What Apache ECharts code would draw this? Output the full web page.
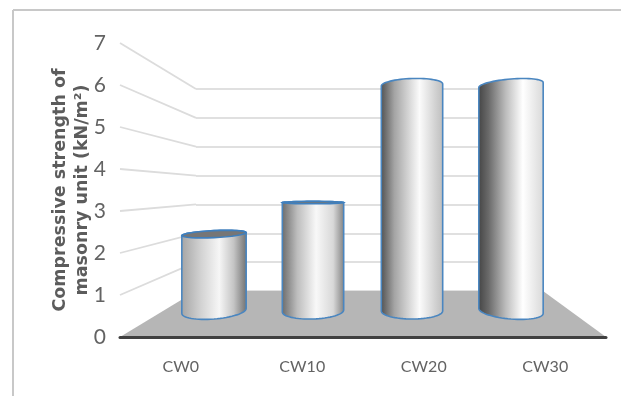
<!DOCTYPE html>
<html>
<head>
<meta charset="utf-8">
<style>html,body{margin:0;padding:0;background:#fff}#chart{width:621px;height:396px}</style>
<script src="https://cdn.jsdelivr.net/npm/echarts@6/dist/echarts.min.js"></script>
</head>
<body>
<div id="chart"></div>
<script>
// Compressive strength of masonry units, drawn as a 3-D style cylinder chart.
const categories = ['CW0', 'CW10', 'CW20', 'CW30'];
const strengthValues = [2.45, 3.2, 6, 6];
const yTicks = [0, 1, 2, 3, 4, 5, 6, 7];

// Planes of the fake perspective box, in page pixels.
const frontPlane = { left: 120, width: 486, top: 43, bottom: 59 };
const backPlane = { left: 196, width: 347, top: 89, bottom: 105 };
const barPlane = { left: 164.5, width: 396, top: 43, bottom: 59 };
const baseLift = 26;     // bar bases stand this far behind the front edge
const eyeLevel = 190;    // top faces are visible only below this height

// Per-cylinder look: half width ratio, ellipse shape and metal shading.
const barLooks = [
  { rx: 0.325, topRy: 3.5, topTilt: -1.5, baseRy: 8, baseTilt: -2.5,
    stops: [[0, '#a4a4a4'], [0.3, '#d2d2d2'], [0.58, '#f6f6f6'], [0.8, '#c4c4c4'], [1, '#6f6f6f']] },
  { rx: 0.31, topRy: 1.2, topTilt: 0, baseRy: 8, baseTilt: -1,
    stops: [[0, '#6a6a6a'], [0.25, '#bdbdbd'], [0.55, '#f8f8f8'], [0.82, '#d8d8d8'], [1, '#808080']] },
  { rx: 0.31, topRy: 6.5, topTilt: -1, baseRy: 8, baseTilt: 0,
    stops: [[0, '#4f4f4f'], [0.22, '#a4a4a4'], [0.62, '#fbfbfb'], [0.88, '#d0d0d0'], [1, '#bdbdbd']] },
  { rx: 0.325, topRy: 6, topTilt: -2.5, baseRy: 8, baseTilt: 2.5,
    stops: [[0, '#444444'], [0.16, '#6a6a6a'], [0.42, '#bcbcbc'], [0.68, '#ffffff'], [1, '#d8d8d8']] }
];

const chart = echarts.init(document.getElementById('chart'));

function arc(cx, cy, rx, ry, tilt, from, to) {
  const pts = [];
  for (let k = 0; k <= 32; k++) {
    const t = from + (to - from) * k / 32;
    pts.push([cx + rx * Math.cos(t), cy + ry * Math.sin(t) + tilt * Math.cos(t)]);
  }
  return pts;
}

function renderCylinder(params, api) {
  const i = api.value(0);
  const look = barLooks[i];
  const top = api.coord([i, api.value(1)]);
  const zero = api.coord([i, 0]);
  const rx = api.size([1, 0])[0] * look.rx;
  const baseY = zero[1] - baseLift;
  const cx = top[0];
  const upper = arc(cx, top[1], rx, look.topRy, look.topTilt, Math.PI, 2 * Math.PI);
  const lower = arc(cx, baseY, rx, look.baseRy, look.baseTilt, 0, Math.PI);
  const fill = new echarts.graphic.LinearGradient(0, 0, 1, 0,
    look.stops.map(s => ({ offset: s[0], color: s[1] })));
  const children = [{
    type: 'polygon',
    shape: { points: upper.concat(lower) },
    style: { fill: fill, stroke: '#4a86c0', lineWidth: 1.6 }
  }];
  if (top[1] > eyeLevel) {
    children.push({
      type: 'polygon',
      shape: { points: arc(cx, top[1], rx, look.topRy, look.topTilt, 0, 2 * Math.PI) },
      style: { fill: '#767676', stroke: '#3f7fbd', lineWidth: 1.6 }
    });
  }
  return { type: 'group', children: children };
}

// Slanted part of each gridline, from the front edge back to the rear wall.
function renderSideLine(params, api) {
  const v = api.value(0);
  const front = api.coord([0, v]);
  const backY = chart.convertToPixel({ yAxisIndex: 1 }, v);
  return {
    type: 'line',
    shape: { x1: frontPlane.left, y1: front[1], x2: backPlane.left, y2: backY },
    style: { stroke: '#dcdcdc', lineWidth: 1.8 }
  };
}

function renderFloor(params, api) {
  const frontY = api.coord([0, 0])[1];
  const backY = chart.convertToPixel({ yAxisIndex: 1 }, 0);
  return {
    type: 'polygon',
    shape: { points: [
      [frontPlane.left, frontY],
      [backPlane.left, backY],
      [backPlane.left + backPlane.width, backY],
      [frontPlane.left + frontPlane.width, frontY]
    ] },
    style: { fill: '#b6b6b6' }
  };
}

chart.setOption({
  animation: false,
  backgroundColor: '#ffffff',
  grid: [frontPlane, backPlane, barPlane],
  xAxis: [
    {
      type: 'category', gridIndex: 0, data: categories, z: 3,
      axisLine: { lineStyle: { color: '#404040', width: 3 } },
      axisTick: { show: false },
      axisLabel: { margin: 22, fontFamily: 'Lato', fontSize: 16, color: '#636363' }
    },
    { type: 'category', gridIndex: 1, data: categories, show: false },
    { type: 'category', gridIndex: 2, data: categories, show: false }
  ],
  yAxis: [
    {
      type: 'value', gridIndex: 0, min: 0, max: 7, interval: 1,
      axisLine: { show: false }, axisTick: { show: false }, splitLine: { show: false },
      axisLabel: { margin: 14, fontFamily: 'Lato', fontSize: 21, color: '#636363',
        formatter: v => String(v) },
      name: 'Compressive strength of\nmasonry unit (kN/m\u00B2)',
      nameLocation: 'middle', nameRotate: 90, nameGap: 27, nameMoveOverlap: false,
      nameTextStyle: { fontFamily: 'DejaVu Sans', fontWeight: 'bold', fontSize: 17.5, lineHeight: 22, color: '#5c5c5c' }
    },
    {
      type: 'value', gridIndex: 1, min: 0, max: 7, interval: 1,
      axisLine: { show: false }, axisTick: { show: false }, axisLabel: { show: false },
      splitLine: { show: true, lineStyle: { color: '#e0e0e0', width: 1.8 } }
    },
    { type: 'value', gridIndex: 2, min: 0, max: 7, interval: 1, show: false, splitLine: { show: false } }
  ],
  series: [
    {
      type: 'custom', xAxisIndex: 0, yAxisIndex: 0, z: 1, silent: true,
      renderItem: renderSideLine, encode: { y: 0 },
      data: yTicks.slice(1).map(v => [v])
    },
    {
      type: 'custom', xAxisIndex: 0, yAxisIndex: 0, z: 2, silent: true,
      renderItem: renderFloor, data: [[0]]
    },
    {
      type: 'custom', xAxisIndex: 2, yAxisIndex: 2, z: 4,
      renderItem: renderCylinder, encode: { x: 0, y: 1 },
      data: strengthValues.map((v, i) => [i, v])
    }
  ],
  graphic: [
    { type: 'line', silent: true, shape: { x1: 13, y1: 10, x2: 621, y2: 10 }, style: { stroke: '#c8c8c8', lineWidth: 2 } },
    { type: 'line', silent: true, shape: { x1: 13, y1: 10, x2: 13, y2: 396 }, style: { stroke: '#c8c8c8', lineWidth: 2 } }
  ]
});
</script>
</body>
</html>
